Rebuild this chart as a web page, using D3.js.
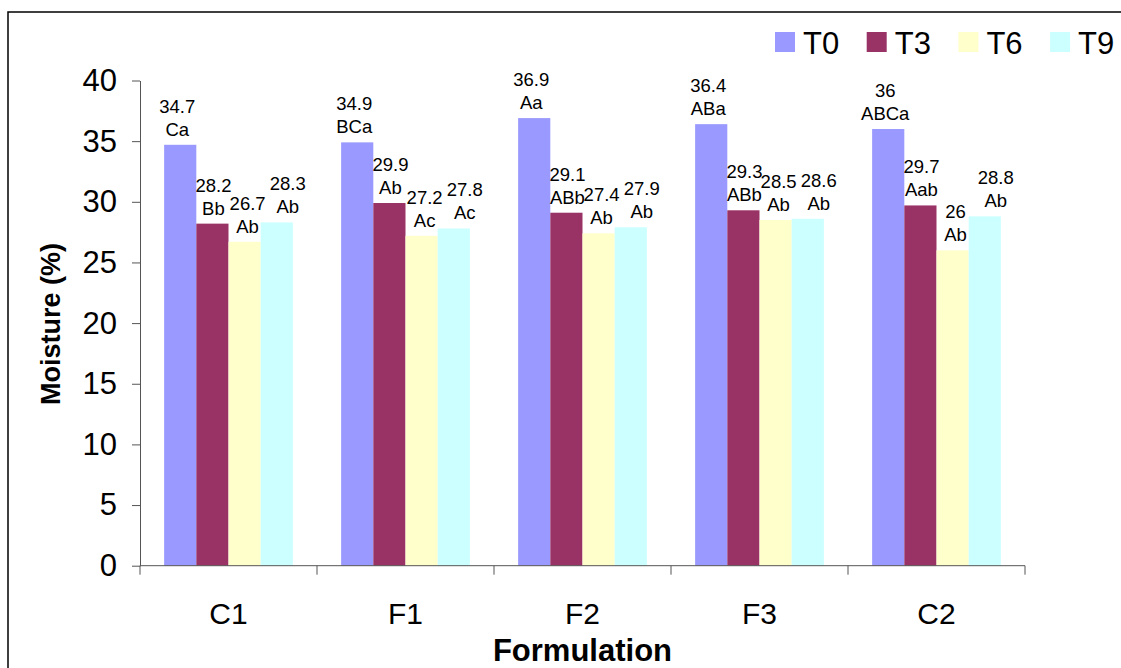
<!DOCTYPE html>
<html>
<head>
<meta charset="utf-8">
<script src="https://cdn.jsdelivr.net/npm/d3@7"></script>
<style>
  html, body { margin: 0; padding: 0; background: #fff; }
  svg { display: block; font-family: "Liberation Sans", Arial, sans-serif; }
</style>
</head>
<body>
<svg id="chart" width="1121" height="668"></svg>
<script>
(function () {
const categories = ["C1", "F1", "F2", "F3", "C2"];
const seriesNames = ["T0", "T3", "T6", "T9"];
const T0 = [34.7, 34.9, 36.9, 36.4, 36.0];
const T3 = [28.2, 29.9, 29.1, 29.3, 29.7];
const T6 = [26.7, 27.2, 27.4, 28.5, 26.0];
const T9 = [28.3, 27.8, 27.9, 28.6, 28.8];
const valueLabels = {
  T0: ["34.7", "34.9", "36.9", "36.4", "36"],
  T3: ["28.2", "29.9", "29.1", "29.3", "29.7"],
  T6: ["26.7", "27.2", "27.4", "28.5", "26"],
  T9: ["28.3", "27.8", "27.9", "28.6", "28.8"]
};
const letterLabels = {
  T0: ["Ca", "BCa", "Aa", "ABa", "ABCa"],
  T3: ["Bb", "Ab", "ABb", "ABb", "Aab"],
  T6: ["Ab", "Ac", "Ab", "Ab", "Ab"],
  T9: ["Ab", "Ac", "Ab", "Ab", "Ab"]
};
const yTicks = [0, 5, 10, 15, 20, 25, 30, 35, 40];
const colors = ["#9999FF", "#993366", "#FFFFCC", "#CCFFFF"];

const seriesValues = { T0, T3, T6, T9 };

// label placement style (horizontal nudge per series, as in the original chart)
const labelNudge = { T0: -3, T3: 1, T6: 3, T9: 11 };

const svg = d3.select("#chart");

// outer border
svg.append("rect")
  .attr("x", 8).attr("y", 12)
  .attr("width", 1130).attr("height", 680)
  .attr("fill", "none").attr("stroke", "#000").attr("stroke-width", 1.5);

const mLeft = 140, mRight = 1025, mTop = 80.5, mBottom = 565.7;

const x = d3.scaleBand().domain(categories).range([mLeft, mRight]).padding(0);
const xs = d3.scaleBand().domain(seriesNames).range([0, x.bandwidth()])
  .paddingInner(0).paddingOuter(0.75);
const y = d3.scaleLinear().domain([0, 40]).range([mBottom, mTop]);
const color = d3.scaleOrdinal().domain(seriesNames).range(colors);

// bars
const groups = svg.append("g").selectAll("g")
  .data(categories)
  .join("g")
  .attr("transform", c => `translate(${x(c)},0)`);

groups.selectAll("rect")
  .data((c, i) => seriesNames.map(s => ({ s, v: seriesValues[s][i], i })))
  .join("rect")
  .attr("x", d => xs(d.s))
  .attr("y", d => y(d.v))
  .attr("width", xs.bandwidth())
  .attr("height", d => y(0) - y(d.v))
  .attr("fill", d => color(d.s));

// data labels
const lab = groups.selectAll("g.lab")
  .data((c, i) => seriesNames.map(s => ({ s, v: seriesValues[s][i], i })))
  .join("g")
  .attr("class", "lab")
  .attr("transform", d => `translate(${xs(d.s) + xs.bandwidth() / 2 + labelNudge[d.s]},${y(d.v) - 9})`);
lab.append("text")
  .attr("text-anchor", "middle")
  .attr("y", -23)
  .attr("font-size", 18.5)
  .attr("fill", "#000")
  .text(d => valueLabels[d.s][d.i]);
lab.append("text")
  .attr("text-anchor", "middle")
  .attr("y", 0)
  .attr("font-size", 18.5)
  .attr("fill", "#000")
  .text(d => letterLabels[d.s][d.i]);

// y axis
const yAxis = svg.append("g")
  .attr("transform", `translate(${mLeft},0)`)
  .call(d3.axisLeft(y).tickValues(yTicks).tickSize(8).tickPadding(15).tickSizeOuter(0));
yAxis.select(".domain").attr("stroke", "#555");
yAxis.selectAll(".tick line").attr("stroke", "#555");
yAxis.selectAll(".tick text")
  .attr("font-size", 31).attr("fill", "#000")
  .attr("font-family", "Liberation Sans, Arial, sans-serif");

// x axis
const xAxisG = svg.append("g").attr("transform", `translate(0,${mBottom})`);
xAxisG.append("line")
  .attr("x1", mLeft).attr("x2", mRight).attr("y1", 0).attr("y2", 0)
  .attr("stroke", "#555");
const boundaries = categories.map(c => x(c)).concat([x(categories[categories.length - 1]) + x.bandwidth()]);
xAxisG.selectAll("line.tk")
  .data(boundaries)
  .join("line")
  .attr("class", "tk")
  .attr("x1", d => d).attr("x2", d => d)
  .attr("y1", 0).attr("y2", 9)
  .attr("stroke", "#555");
xAxisG.selectAll("text.cat")
  .data(categories)
  .join("text")
  .attr("class", "cat")
  .attr("x", c => x(c) + x.bandwidth() / 2)
  .attr("y", 58)
  .attr("text-anchor", "middle")
  .attr("font-size", 30)
  .attr("fill", "#000")
  .text(c => c);

// axis titles
svg.append("text")
  .attr("x", (mLeft + mRight) / 2)
  .attr("y", 661)
  .attr("text-anchor", "middle")
  .attr("font-size", 31)
  .attr("font-weight", "bold")
  .text("Formulation");

svg.append("text")
  .attr("transform", `translate(60,324) rotate(-90)`)
  .attr("text-anchor", "middle")
  .attr("font-size", 27)
  .attr("font-weight", "bold")
  .text("Moisture (%)");

// legend
const legend = svg.append("g").attr("transform", "translate(775,32)");
const li = legend.selectAll("g")
  .data(seriesNames)
  .join("g")
  .attr("transform", (d, i) => `translate(${i * 91.7},0)`);
li.append("rect")
  .attr("width", 20).attr("height", 20)
  .attr("fill", d => color(d));
li.append("text")
  .attr("x", 28).attr("y", 21.5)
  .attr("font-size", 31)
  .attr("fill", "#000")
  .text(d => d);
})();
</script>
</body>
</html>
